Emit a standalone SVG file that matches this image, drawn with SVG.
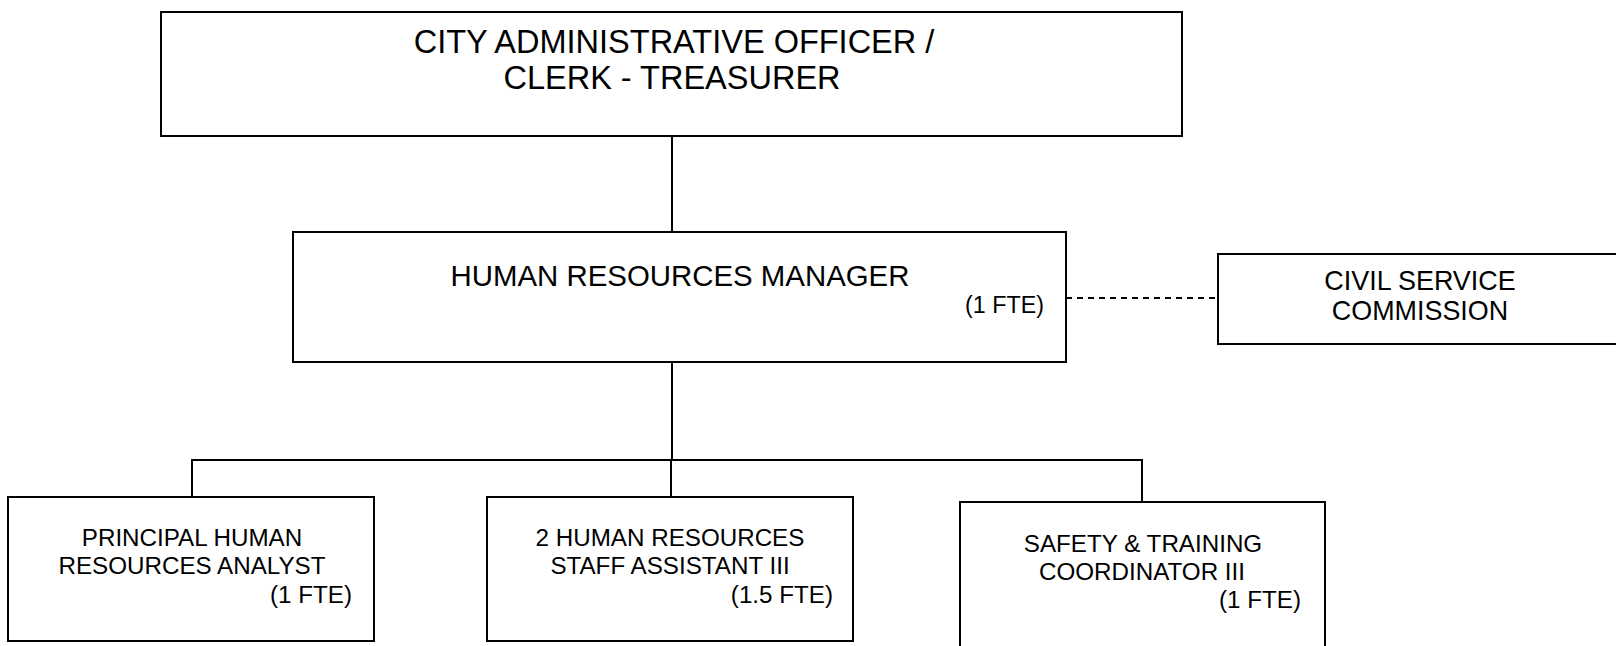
<svg xmlns="http://www.w3.org/2000/svg" width="1616" height="646" viewBox="0 0 1616 646">
<style>
.box{fill:#fff;stroke:#000;stroke-width:2}
.ln{stroke:#000;stroke-width:2;fill:none}
.dash{stroke:#000;stroke-width:2;fill:none;stroke-dasharray:6 5}
text{font-family:"Liberation Sans",Arial,sans-serif;fill:#000}
.t32{font-size:32.5px}
.t29{font-size:29.4px}
.t26{font-size:26.9px}
.t23{font-size:24.2px}
.t21{font-size:23.3px}
</style>
<rect width="1616" height="646" fill="#fff"/>
<g id="connectors">
<line class="ln" x1="672" y1="136" x2="672" y2="232"/>
<line class="ln" x1="672" y1="362" x2="672" y2="460"/>
<line class="ln" x1="191" y1="460" x2="1143" y2="460"/>
<line class="ln" x1="192" y1="460" x2="192" y2="497"/>
<line class="ln" x1="671" y1="460" x2="671" y2="497"/>
<line class="ln" x1="1142" y1="460" x2="1142" y2="502"/>
<line class="dash" x1="1066" y1="298" x2="1218" y2="298"/>
</g>
<g id="cao">
<rect class="box" x="161" y="12" width="1021" height="124"/>
<text class="t32" x="674" y="53" text-anchor="middle">CITY ADMINISTRATIVE OFFICER /</text>
<text class="t32" x="672" y="89" text-anchor="middle">CLERK - TREASURER</text>
</g>
<g id="hrm">
<rect class="box" x="293" y="232" width="773" height="130"/>
<text class="t29" x="680" y="286" text-anchor="middle">HUMAN RESOURCES MANAGER</text>
<text class="t21" x="1044" y="313" text-anchor="end">(1 FTE)</text>
</g>
<g id="csc">
<rect class="box" x="1218" y="254" width="402" height="90"/>
<text class="t26" x="1420" y="290" text-anchor="middle">CIVIL SERVICE</text>
<text class="t26" x="1420" y="320" text-anchor="middle">COMMISSION</text>
</g>
<g id="pra">
<rect class="box" x="8" y="497" width="366" height="144"/>
<text class="t23" x="192" y="546" text-anchor="middle">PRINCIPAL HUMAN</text>
<text class="t23" x="192" y="574" text-anchor="middle">RESOURCES ANALYST</text>
<text class="t23" x="352" y="603" text-anchor="end">(1 FTE)</text>
</g>
<g id="hrsa">
<rect class="box" x="487" y="497" width="366" height="144"/>
<text class="t23" x="670" y="546" text-anchor="middle">2 HUMAN RESOURCES</text>
<text class="t23" x="670" y="574" text-anchor="middle">STAFF ASSISTANT III</text>
<text class="t23" x="833" y="603" text-anchor="end">(1.5 FTE)</text>
</g>
<g id="stc">
<rect class="box" x="960" y="502" width="365" height="150"/>
<text class="t23" x="1143" y="552" text-anchor="middle">SAFETY &amp; TRAINING</text>
<text class="t23" x="1142" y="580" text-anchor="middle">COORDINATOR III</text>
<text class="t23" x="1301" y="608" text-anchor="end">(1 FTE)</text>
</g>
</svg>
